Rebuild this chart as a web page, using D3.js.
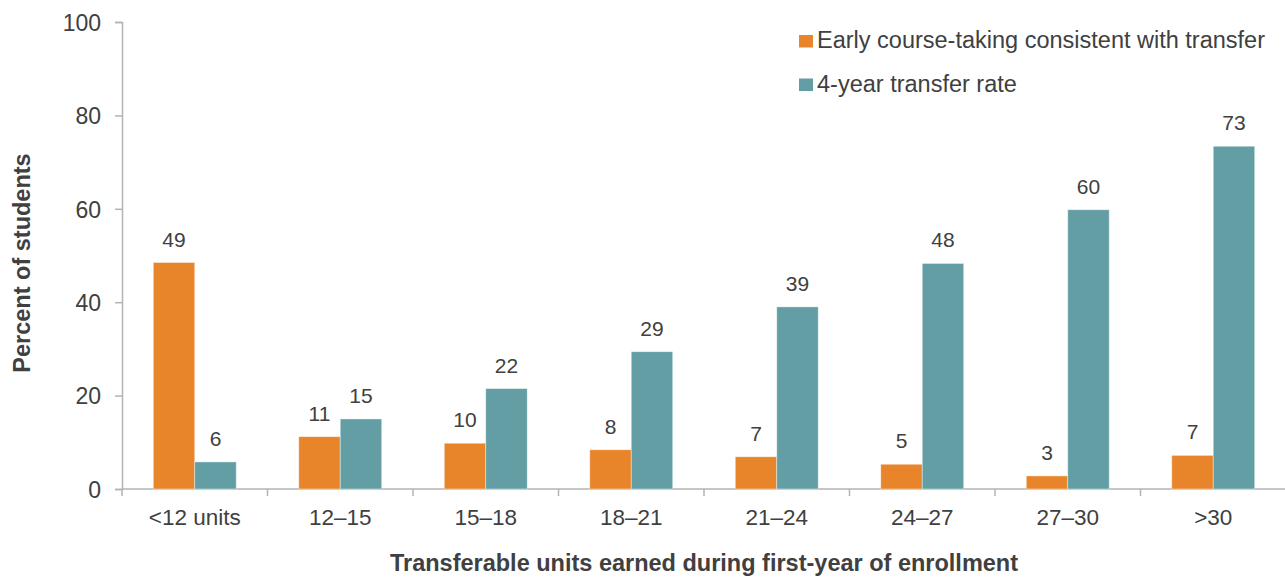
<!DOCTYPE html>
<html>
<head>
<meta charset="utf-8">
<script src="https://cdn.jsdelivr.net/npm/d3@7"></script>
<style>
  body { margin: 0; background: #fff; }
  svg { font-family: "Liberation Sans", Arial, sans-serif; }
</style>
</head>
<body>
<svg id="chart" width="1285" height="577"></svg>
<script>
// data
const categories = ['<12 units', '12–15', '15–18', '18–21', '21–24', '24–27', '27–30', '>30'];
const earlyCourse = [48.5, 11.2, 9.8, 8.4, 6.9, 5.3, 2.8, 7.2];
const transferRate = [5.8, 15.0, 21.5, 29.4, 39.0, 48.3, 59.8, 73.4];
const seriesNames = ['Early course-taking consistent with transfer', '4-year transfer rate'];
const seriesColors = ['#E8842A', '#639EA5'];
const yTicks = [0, 20, 40, 60, 80, 100];

const svg = d3.select('#chart');
const plotLeft = 122, plotRight = 1285, plotTop = 22, plotBottom = 489;
const textColor = '#404040';
const axisColor = '#b3b3b3';

const x = d3.scaleBand()
    .domain(categories)
    .range([plotLeft, plotLeft + 145.5 * categories.length])
    .padding(0);

const y = d3.scaleLinear()
    .domain([0, 100])
    .range([plotBottom, plotTop]);

const barW = x.bandwidth() * 0.285;

// y axis
const yAxis = svg.append('g')
    .attr('transform', `translate(${plotLeft},0)`)
    .call(d3.axisLeft(y).tickValues(yTicks).tickSize(7).tickPadding(14));
yAxis.select('.domain').attr('stroke', axisColor).attr('stroke-width', 1.5);
yAxis.selectAll('.tick line').attr('stroke', axisColor).attr('stroke-width', 1.5);
yAxis.selectAll('.tick text')
    .attr('fill', textColor)
    .attr('dy', '0.36em')
    .style('font-size', '23px');

// x axis
const xAxis = svg.append('g')
    .attr('transform', `translate(0,${plotBottom})`)
    .call(d3.axisBottom(x).tickSize(0).tickPadding(0));
xAxis.select('.domain').remove();
xAxis.selectAll('.tick text')
    .attr('y', 36)
    .attr('dy', null)
    .attr('fill', textColor)
    .style('font-size', '22.5px');

svg.append('line')
    .attr('x1', plotLeft).attr('x2', plotRight)
    .attr('y1', plotBottom).attr('y2', plotBottom)
    .attr('stroke', axisColor).attr('stroke-width', 1.5);

// category separator ticks
svg.append('g').selectAll('line')
    .data(categories)
    .join('line')
    .attr('x1', d => x(d)).attr('x2', d => x(d))
    .attr('y1', plotBottom).attr('y2', plotBottom + 7)
    .attr('stroke', axisColor).attr('stroke-width', 1.5);

// bars
const series = [earlyCourse, transferRate];
series.forEach((vals, s) => {
    const g = svg.append('g');
    g.selectAll('rect')
        .data(vals)
        .join('rect')
        .attr('x', (d, i) => x(categories[i]) + x.bandwidth() / 2 - barW + s * barW)
        .attr('y', d => y(d))
        .attr('width', barW)
        .attr('height', d => y(0) - y(d))
        .attr('fill', seriesColors[s])
        .attr('stroke', '#ffffff')
        .attr('stroke-opacity', 0.5)
        .attr('stroke-width', 0.8);

    g.selectAll('text')
        .data(vals)
        .join('text')
        .attr('x', (d, i) => x(categories[i]) + x.bandwidth() / 2 - barW / 2 + s * barW)
        .attr('y', d => y(d) - 16)
        .attr('text-anchor', 'middle')
        .attr('fill', textColor)
        .style('font-size', '21px')
        .text(d => Math.round(d));
});

// legend
const legend = svg.append('g').attr('transform', 'translate(799,0)');
seriesNames.forEach((name, i) => {
    legend.append('rect')
        .attr('x', 0).attr('y', 35 + i * 43.5)
        .attr('width', 14).attr('height', 12.5)
        .attr('fill', seriesColors[i]);
    legend.append('text')
        .attr('x', 18).attr('y', 48 + i * 43.5)
        .attr('fill', textColor)
        .style('font-size', '23.5px')
        .text(name);
});

// axis titles
svg.append('text')
    .attr('x', 704).attr('y', 571)
    .attr('text-anchor', 'middle')
    .attr('fill', textColor)
    .style('font-size', '23.5px')
    .style('font-weight', 'bold')
    .text('Transferable units earned during first-year of enrollment');

svg.append('text')
    .attr('transform', 'translate(30,263) rotate(-90)')
    .attr('text-anchor', 'middle')
    .attr('fill', textColor)
    .style('font-size', '23.5px')
    .style('font-weight', 'bold')
    .text('Percent of students');
</script>
</body>
</html>
